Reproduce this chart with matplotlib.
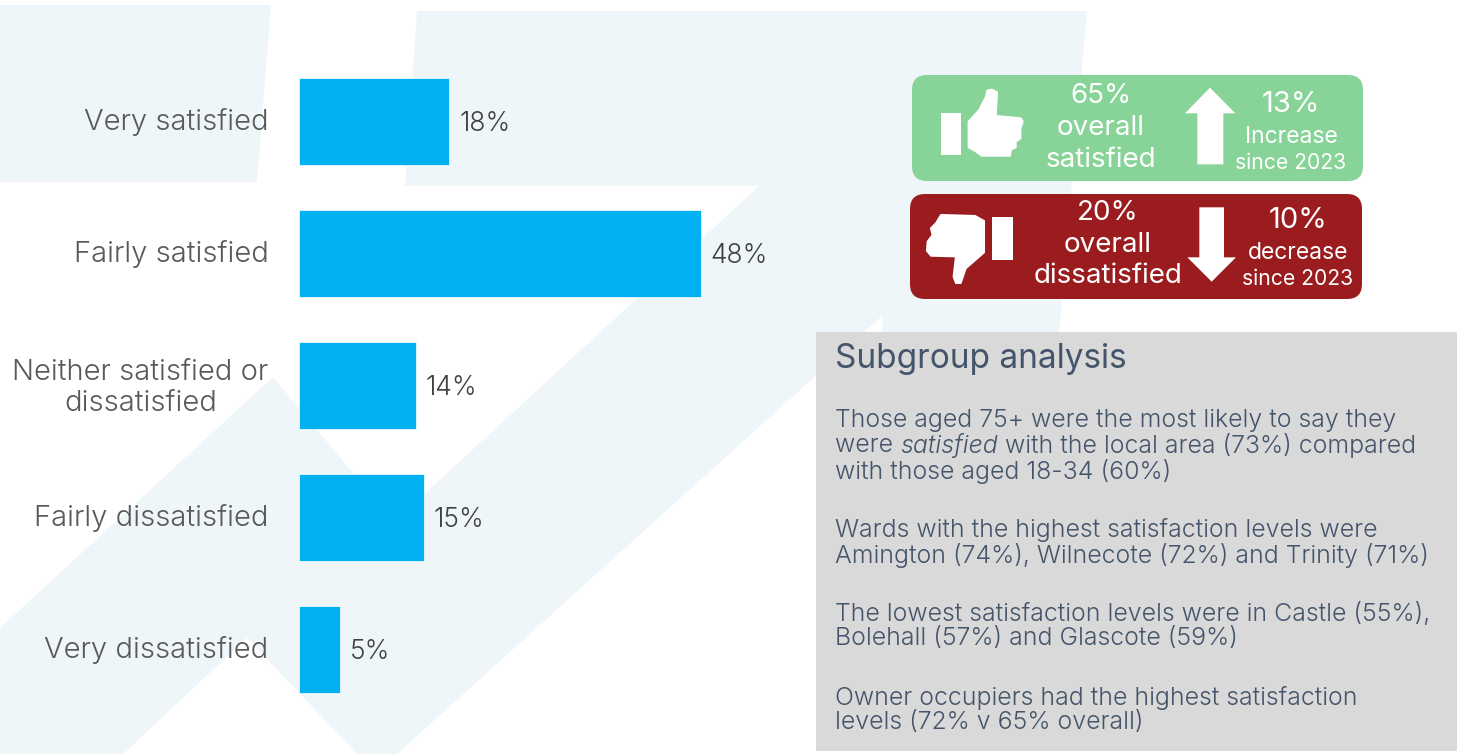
import matplotlib
matplotlib.use('Agg')
import matplotlib.pyplot as plt
from matplotlib.patches import FancyBboxPatch, Polygon, Rectangle
from matplotlib.transforms import ScaledTranslation

categorias = ['Very satisfied', 'Fairly satisfied', 'Neither satisfied or\ndissatisfied',
              'Fairly dissatisfied', 'Very dissatisfied']
valores = [18, 48, 14, 15, 5]

titulo_painel = 'Subgroup analysis'
linhas_painel = [
    ('Those aged 75+ were the most likely to say they', 421),
    (None, 446),
    ('with those aged 18-34 (60%)', 471),
    ('Wards with the highest satisfaction levels were', 530),
    ('Amington (74%), Wilnecote (72%) and Trinity (71%)', 555),
    ('The lowest satisfaction levels were in Castle (55%),', 614),
    ('Bolehall (57%) and Glascote (59%)', 639),
    ('Owner occupiers had the highest satisfaction', 698),
    ('levels (72% v 65% overall)', 723),
]

FONTE = 'Inter'
plt.rcParams['font.family'] = [FONTE, 'DejaVu Sans']

AZUL = '#00B0F0'
TINTA = '#EFF6FA'
VERDE = '#88D498'
VERMELHO = '#9A1C1F'
CINZA = '#D9D9D9'
TEXTO = '#44546A'

fig = plt.figure(figsize=(14.63, 7.54), dpi=100)
W, H = 1463, 754

# fundo em coordenadas de pixel
bg = fig.add_axes([0, 0, 1, 1])
bg.set_xlim(0, W)
bg.set_ylim(H, 0)
bg.axis('off')

bg.add_patch(Polygon([(0, 5), (271, 5), (257, 182), (0, 182)], fc=TINTA, ec='none'))
bg.add_patch(Polygon([(417, 11), (1087, 11), (1059, 333), (1053, 400), (876, 400), (883, 315),
                      (397, 754), (357, 754), (247, 638), (123, 754), (0, 754), (0, 628),
                      (273, 377), (394, 522), (759, 186), (405, 186)], fc=TINTA, ec='none'))

def caixa(x0, y0, x1, y1, cor):
    r = 15
    bg.add_patch(FancyBboxPatch((x0 + r, y0 + r), x1 - x0 - 2 * r, y1 - y0 - 2 * r,
                                boxstyle=f'round,pad={r},rounding_size={r}', fc=cor, ec='none'))

caixa(912, 75, 1363, 181, VERDE)
caixa(910, 194, 1362, 299, VERMELHO)

def zoom_pts(pts):
    return [(900 + x / 3, 60 + y / 3) for x, y in pts]

def branco(pts, borda=0):
    bg.add_patch(Polygon(zoom_pts(pts), fc='white', ec='white', lw=borda, joinstyle='round'))

# polegares e setas
branco([(124, 158), (182, 158), (182, 285), (124, 285)])
branco([(206, 262), (206, 185), (238, 150), (258, 110), (262, 92), (275, 89), (291, 97), (287, 168),
        (362, 175), (368, 185), (361, 205), (361, 235), (347, 245), (347, 262), (332, 270), (330, 287),
        (245, 287), (225, 272)], borda=1.5)
branco([(277, 470), (338, 470), (338, 600), (277, 600)])
branco([(252, 483), (225, 468), (123, 465), (108, 490), (93, 505), (98, 525), (83, 545), (81, 572),
        (93, 587), (168, 589), (161, 650), (168, 669), (182, 669), (197, 625), (252, 577)], borda=1.5)
branco([(855, 160), (930, 83), (1006, 160), (970, 160), (970, 313), (892, 313), (892, 160)])
branco([(898, 442), (972, 442), (972, 592), (1008, 592), (935, 665), (862, 592), (898, 592)])

def txt(x, y, s, size, **kw):
    return bg.text(x, y, s, fontsize=size, color=kw.pop('color', 'white'), ha=kw.pop('ha', 'center'),
                   va='center', fontweight=kw.pop('fontweight', 'normal'), **kw)

txt(1101, 96, '65%', 20)
txt(1101, 128, 'overall', 20)
txt(1101, 160, 'satisfied', 20)
txt(1291, 105, '13%', 21)
txt(1291, 137, 'Increase', 16.5)
txt(1291, 163, 'since 2023', 15.2)
txt(1108, 213, '20%', 20)
txt(1108, 245, 'overall', 20)
txt(1108, 276, 'dissatisfied', 20)
txt(1298, 221, '10%', 21)
txt(1298, 253, 'decrease', 16.5)
txt(1298, 279, 'since 2023', 15.2)

# painel
bg.add_patch(Rectangle((816, 332), 641, 419, fc=CINZA, ec='none'))
txt(835, 359, titulo_painel, 24, color=TEXTO, ha='left')

TAM = 17.9
for linha, y in linhas_painel:
    if linha is not None:
        txt(835, y, linha, TAM, color=TEXTO, ha='left', fontweight=300)
    else:
        rend = fig.canvas.get_renderer()
        x = 835
        for parte, estilo in [('were ', 'normal'), ('satisfied', 'italic'),
                              (' with the local area (73%) compared', 'normal')]:
            txt(x, y, parte, TAM, color=TEXTO, ha='left', fontstyle=estilo, fontweight=300)
            a = bg.text(0, 0, parte.replace(' ', '\u00a0'), fontsize=TAM, fontweight=300, fontstyle=estilo)
            x += a.get_window_extent(rend).width
            a.remove()

# barras
ax = fig.add_axes([298.6 / W, 1 - 715 / H, 502.5 / W, 660 / H])
ax.patch.set_alpha(0)
barras = ax.barh(range(len(valores)), valores, height=87 / 132, color=AZUL, edgecolor='white', linewidth=0.5)
ax.set_xlim(0, 60)
ax.set_ylim(4.5, -0.5)
ax.set_yticks(range(len(categorias)))
ax.set_yticklabels(categorias, fontsize=21, color='#595959', fontweight=300, multialignment='center')
ax.tick_params(axis='y', length=0, pad=21.5)
ax.xaxis.set_visible(False)
for lado in ax.spines.values():
    lado.set_visible(False)
sobe = ScaledTranslation(0, 1.5 / 72, fig.dpi_scale_trans)
for rotulo in ax.get_yticklabels():
    rotulo.set_transform(rotulo.get_transform() + sobe)
rotulos = ax.bar_label(barras, labels=[f'{v}%' for v in valores], padding=7, fontsize=19,
                       color='#404040', fontweight=300)
for r in rotulos:
    r.xyann = (r.xyann[0], -2.2)

fig.savefig('out.png', dpi=100)
